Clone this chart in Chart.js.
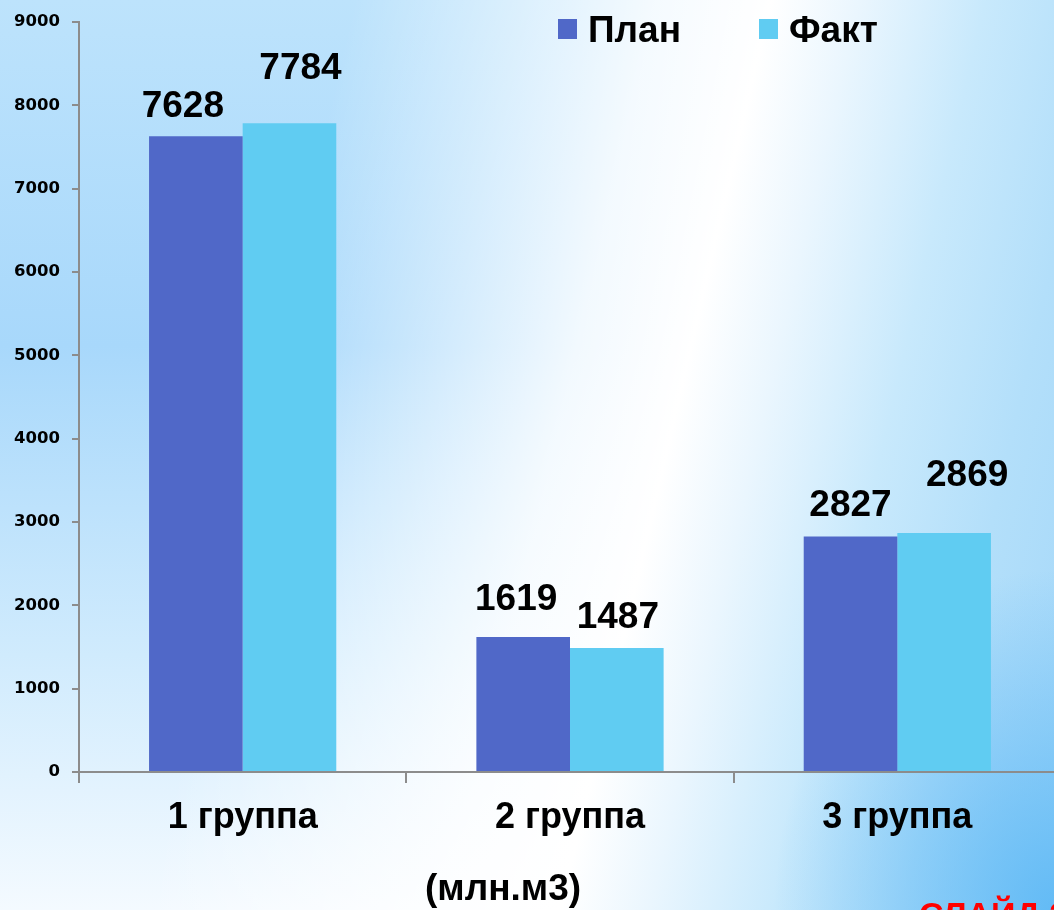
<!DOCTYPE html>
<html>
<head>
<meta charset="utf-8">
<script src="https://cdn.jsdelivr.net/npm/chart.js@4"></script>
<style>
  html, body { margin:0; padding:0; width:1054px; height:910px; overflow:hidden; }
  body {
    position: relative;
    background:
      radial-gradient(ellipse 280px 340px at 100% 100%, rgba(92,184,245,0.9) 0%, rgba(92,184,245,0) 100%),
      linear-gradient(103deg, rgba(255,255,255,0) 28%, rgba(255,255,255,0.85) 52%, #ffffff 61%, #eaf6fe 68%, #c8e9fc 78%, #b3dffa 88%, #a3d7f9 100%),
      linear-gradient(to bottom, #bde3fc 0%, #a8d8fb 38%, #d0ebfd 72%, #f4faff 100%);
  }
  #wrap { position:absolute; left:0; top:0; width:1062px; height:910px; }
  .note { position:absolute; font-family:"Liberation Sans", Arial, sans-serif; font-weight:bold; white-space:nowrap; }
</style>
</head>
<body>
<div id="wrap"><canvas id="c" width="1062" height="910"></canvas></div>
<div class="note" style="left:919px; top:895px; font-size:34px; color:#ff0000;">СЛАЙД 2</div>
<script>
// ---- data ----
const categories = ["1 группа", "2 группа", "3 группа"];
const seriesNames = ["План", "Факт"];
const planValues = [7628, 1619, 2827];
const factValues = [7784, 1487, 2869];
const yTicks = [0, 1000, 2000, 3000, 4000, 5000, 6000, 7000, 8000, 9000];
const unitLabel = "(млн.м3)";

// ---- styling ----
const colors = ["#5068c8", "#60ccf2"];
const labelNudges = [
  { dx: [-13, -7, 0], dy: [19, 27, 20] },
  { dx: [11, 1, 23], dy: [44, 20, 47] }
];

const valueLabels = {
  id: 'valueLabels',
  afterDatasetsDraw(chart) {
    const ctx = chart.ctx;
    ctx.save();
    ctx.font = 'bold 37px "Liberation Sans", Arial, sans-serif';
    ctx.fillStyle = '#000';
    ctx.textAlign = 'center';
    ctx.textBaseline = 'alphabetic';
    chart.data.datasets.forEach((ds, i) => {
      const meta = chart.getDatasetMeta(i);
      meta.data.forEach((bar, j) => {
        const n = labelNudges[i];
        ctx.fillText(String(ds.data[j]), bar.x + n.dx[j], bar.y - n.dy[j]);
      });
    });
    ctx.restore();
  }
};

const customLegend = {
  id: 'customLegend',
  afterDraw(chart) {
    const ctx = chart.ctx;
    const items = [{ x: 558 }, { x: 759 }];
    ctx.save();
    ctx.font = 'bold 37px "Liberation Sans", Arial, sans-serif';
    ctx.textBaseline = 'alphabetic';
    ctx.textAlign = 'left';
    chart.data.datasets.forEach((ds, i) => {
      const it = items[i];
      ctx.fillStyle = ds.backgroundColor;
      ctx.fillRect(it.x, 19, 19, 20);
      ctx.fillStyle = '#000';
      ctx.fillText(ds.label, it.x + 30, 42);
    });
    // unit caption
    ctx.textAlign = 'center';
    ctx.font = 'bold 37px "Liberation Sans", Arial, sans-serif';
    ctx.fillText(unitLabel, 503, 900);
    ctx.restore();
  }
};

new Chart(document.getElementById('c'), {
  type: 'bar',
  data: {
    labels: categories,
    datasets: [
      { label: seriesNames[0], data: planValues, backgroundColor: colors[0], borderWidth: 0 },
      { label: seriesNames[1], data: factValues, backgroundColor: colors[1], borderWidth: 0 }
    ]
  },
  options: {
    responsive: false,
    animation: false,
    devicePixelRatio: 1,
    layout: { padding: { left: 0, right: 1, top: 20, bottom: 0 } },
    datasets: { bar: { categoryPercentage: 0.572, barPercentage: 1.0 } },
    plugins: { legend: { display: false }, tooltip: { enabled: false } },
    scales: {
      x: {
        offset: true,
        grid: { display: true, offset: true, drawOnChartArea: false, drawTicks: true, tickLength: 11, color: '#8c8c8c', lineWidth: 2 },
        border: { display: true, color: '#8c8c8c', width: 2 },
        ticks: { color: '#000', padding: 13, font: { family: '"Liberation Sans", Arial, sans-serif', size: 36, weight: 'bold', lineHeight: 1.2 } },
        afterFit(scale) { scale.height = 138; }
      },
      y: {
        min: 0, max: 9000,
        afterBuildTicks(scale) { scale.ticks = yTicks.map(v => ({ value: v })); },
        grid: { display: true, drawOnChartArea: false, drawTicks: true, tickLength: 7, color: '#8c8c8c', lineWidth: 2 },
        border: { display: true, color: '#8c8c8c', width: 2 },
        ticks: {
          color: '#000', padding: 12,
          font: { family: '"DejaVu Sans", sans-serif', size: 16.5, weight: 'bold' },
          callback: (v) => String(v)
        },
        afterFit(scale) { scale.width = 79; }
      }
    }
  },
  plugins: [valueLabels, customLegend]
});
</script>
</body>
</html>
